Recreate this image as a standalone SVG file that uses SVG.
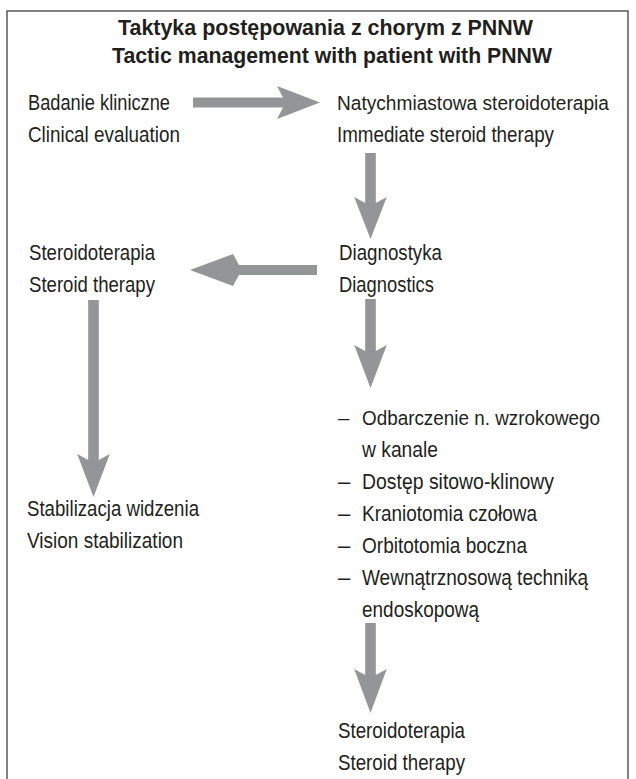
<svg xmlns="http://www.w3.org/2000/svg" width="636" height="779" viewBox="0 0 636 779">
<style>
.t{font-family:"Liberation Sans",Arial,sans-serif;font-size:22px;fill:#231f20}
.fit{font-size:20.5px}
.title{font-family:"Liberation Sans",Arial,sans-serif;font-size:21.5px;font-weight:bold;fill:#231f20}
.arr{fill:#939598}
.frame{fill:none;stroke:#58595b;stroke-width:1.5}
</style>
<rect width="636" height="779" fill="#ffffff"/>
<path class="frame" d="M7,779 V11 H628 V779"/>
<g id="title">
<text class="title" x="118" y="35" textLength="415" lengthAdjust="spacingAndGlyphs">Taktyka postępowania z chorym z PNNW</text>
<text class="title" x="112" y="63" textLength="440" lengthAdjust="spacingAndGlyphs">Tactic management with patient with PNNW</text>
</g>
<g id="node-clinical">
<text class="t" x="28" y="110" textLength="142" lengthAdjust="spacingAndGlyphs">Badanie kliniczne</text>
<text class="t" x="28" y="142" textLength="152" lengthAdjust="spacingAndGlyphs">Clinical evaluation</text>
</g>
<g id="node-immediate">
<text class="t fit" x="337" y="110" textLength="272" lengthAdjust="spacingAndGlyphs">Natychmiastowa steroidoterapia</text>
<text class="t" x="337" y="142" textLength="217" lengthAdjust="spacingAndGlyphs">Immediate steroid therapy</text>
</g>
<g id="node-diagnostics">
<text class="t" x="339" y="260" textLength="103" lengthAdjust="spacingAndGlyphs">Diagnostyka</text>
<text class="t" x="339" y="292" textLength="95" lengthAdjust="spacingAndGlyphs">Diagnostics</text>
</g>
<g id="node-steroid-left">
<text class="t" x="29" y="260" textLength="126" lengthAdjust="spacingAndGlyphs">Steroidoterapia</text>
<text class="t" x="29" y="292" textLength="126" lengthAdjust="spacingAndGlyphs">Steroid therapy</text>
</g>
<g id="node-stabilization">
<text class="t" x="27" y="516" textLength="172" lengthAdjust="spacingAndGlyphs">Stabilizacja widzenia</text>
<text class="t" x="27" y="548" textLength="156" lengthAdjust="spacingAndGlyphs">Vision stabilization</text>
</g>
<g id="node-surgery">
<text class="t fit" y="425"><tspan x="338">–</tspan><tspan x="362" textLength="238" lengthAdjust="spacingAndGlyphs">Odbarczenie n. wzrokowego</tspan></text>
<text class="t" x="362" y="457" textLength="76" lengthAdjust="spacingAndGlyphs">w kanale</text>
<text class="t" y="489"><tspan x="338">–</tspan><tspan x="362" textLength="192" lengthAdjust="spacingAndGlyphs">Dostęp sitowo-klinowy</tspan></text>
<text class="t" y="521"><tspan x="338">–</tspan><tspan x="362" textLength="175" lengthAdjust="spacingAndGlyphs">Kraniotomia czołowa</tspan></text>
<text class="t" y="553"><tspan x="338">–</tspan><tspan x="362" textLength="165" lengthAdjust="spacingAndGlyphs">Orbitotomia boczna</tspan></text>
<text class="t" y="585"><tspan x="338">–</tspan><tspan x="362" textLength="226" lengthAdjust="spacingAndGlyphs">Wewnątrznosową techniką</tspan></text>
<text class="t" x="362" y="617" textLength="117" lengthAdjust="spacingAndGlyphs">endoskopową</text>
</g>
<g id="node-steroid-bottom">
<text class="t" x="338" y="738" textLength="127" lengthAdjust="spacingAndGlyphs">Steroidoterapia</text>
<text class="t" x="338" y="770" textLength="127" lengthAdjust="spacingAndGlyphs">Steroid therapy</text>
</g>
<g id="connectors">
<path class="arr" d="M193,97.5 H283 L277,86 L320,102.5 L277,119 L283,107.5 H193 Z"/>
<path class="arr" d="M365.2,153 V203 L354.2,197 L370.5,239 L386.8,197 L375.8,203 V153 Z"/>
<path class="arr" d="M317,265 H239 L233,254 L190,270 L233,286 L239,275 H317 Z"/>
<path class="arr" d="M88.2,300 V460 L77.2,454 L93.5,497 L109.8,454 L98.8,460 V300 Z"/>
<path class="arr" d="M365.2,299 V351 L354.2,345 L370.5,388 L386.8,345 L375.8,351 V299 Z"/>
<path class="arr" d="M365.2,623 V675 L354.2,669 L370.5,713 L386.8,669 L375.8,675 V623 Z"/>
</g>
</svg>
